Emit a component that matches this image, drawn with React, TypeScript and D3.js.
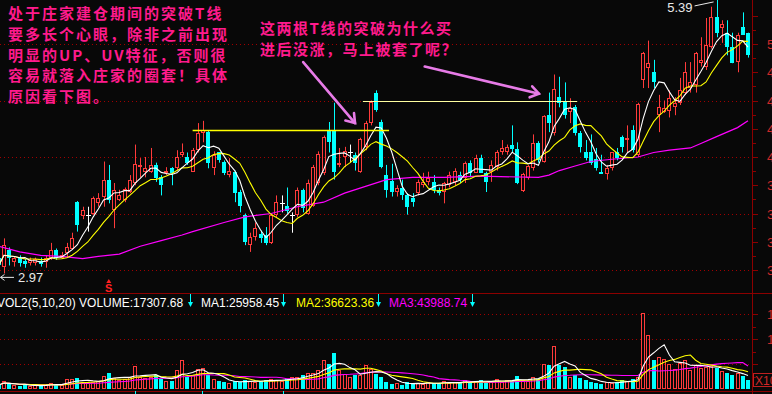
import React from "react";
import * as d3 from "d3";

// daily candles (price units)
const opens = [
  3.11, 3.03, 3.18, 3.07, 3.11, 3.08, 3.06, 3.06, 3.08, 3.07,
  3.11, 3.18, 3.11, 3.15, 3.19, 3.60, 3.48, 3.49, 3.50, 3.59,
  3.65, 3.80, 3.53, 3.62, 3.62, 3.69, 3.77, 3.91, 3.87, 3.87,
  3.93, 3.82, 3.86, 3.90, 3.90, 4.02, 4.00, 3.87, 4.06, 4.21,
  4.22, 3.90, 4.04, 3.96, 3.84, 3.87, 3.69, 3.49, 3.22, 3.29,
  3.32, 3.31, 3.24, 3.49, 3.59, 3.57, 3.49, 3.49, 3.71, 3.50,
  3.57, 3.77, 3.86, 4.24, 4.24, 3.93, 4.00, 4.04, 4.02, 3.87,
  4.09, 4.30, 4.57, 4.31, 3.84, 3.79, 3.69, 3.73, 3.66, 3.64,
  3.68, 3.75, 3.78, 3.78, 3.71, 3.69, 3.75, 3.78, 3.84, 3.81,
  3.95, 3.86, 3.99, 3.86, 3.87, 3.91, 4.04, 4.04, 4.11, 4.07,
  3.70, 3.81, 3.90, 4.12, 3.96, 4.37, 4.21, 4.53, 4.50, 4.40,
  4.44, 4.21, 4.04, 4.04, 3.98, 3.87, 3.85, 3.90, 4.04, 4.18,
  4.15, 4.24, 4.02, 4.68, 4.79, 4.75, 4.37, 4.40, 4.41, 4.44,
  4.48, 4.57, 4.61, 4.64, 4.83, 4.80, 4.97, 5.24, 5.14, 5.10,
  4.97, 4.84, 5.15, 5.10,
];
const closes = [
  3.04, 3.22, 3.11, 3.11, 3.06, 3.05, 3.09, 3.10, 3.05, 3.11,
  3.18, 3.11, 3.13, 3.20, 3.28, 3.40, 3.53, 3.49, 3.64, 3.64,
  3.80, 3.62, 3.71, 3.66, 3.72, 3.80, 3.94, 3.93, 3.90, 3.93,
  3.81, 3.75, 3.88, 3.86, 4.00, 4.04, 3.95, 4.06, 4.21, 4.24,
  3.95, 4.02, 3.97, 3.86, 3.88, 3.68, 3.57, 3.25, 3.29, 3.37,
  3.28, 3.24, 3.49, 3.60, 3.59, 3.52, 3.49, 3.71, 3.55, 3.77,
  3.91, 4.03, 4.18, 4.13, 3.87, 3.95, 4.05, 4.04, 3.95, 4.16,
  4.30, 4.49, 4.42, 3.91, 3.71, 3.69, 3.73, 3.66, 3.56, 3.60,
  3.78, 3.78, 3.81, 3.71, 3.68, 3.77, 3.84, 3.88, 3.80, 3.95,
  3.86, 3.99, 3.86, 3.78, 3.93, 4.04, 4.08, 4.09, 4.07, 3.77,
  3.85, 3.92, 4.12, 3.97, 4.36, 4.30, 4.60, 4.48, 4.37, 4.43,
  4.21, 4.09, 3.99, 3.95, 3.90, 3.85, 3.90, 4.04, 3.99, 4.09,
  4.17, 4.06, 4.47, 4.92, 4.83, 4.66, 4.44, 4.43, 4.52, 4.48,
  4.59, 4.75, 4.66, 4.92, 4.86, 4.99, 5.24, 5.10, 5.18, 4.97,
  4.83, 5.08, 5.08, 4.90,
];
const highs = [
  3.13, 3.28, 3.20, 3.12, 3.13, 3.10, 3.11, 3.11, 3.11, 3.13,
  3.24, 3.19, 3.16, 3.24, 3.33, 3.61, 3.56, 3.56, 3.65, 3.68,
  3.96, 3.93, 3.77, 3.71, 3.73, 3.84, 4.11, 3.99, 4.00, 4.08,
  3.95, 3.84, 3.91, 3.91, 4.06, 4.12, 4.04, 4.08, 4.30, 4.32,
  4.23, 4.05, 4.04, 3.97, 3.99, 3.88, 3.71, 3.50, 3.33, 3.42,
  3.35, 3.38, 3.50, 3.66, 3.66, 3.73, 3.51, 3.73, 3.72, 3.80,
  3.93, 4.05, 4.19, 4.31, 4.48, 4.08, 4.09, 4.11, 4.04, 4.17,
  4.32, 4.50, 4.59, 4.33, 3.93, 3.94, 3.75, 3.80, 3.68, 3.68,
  3.80, 3.86, 3.87, 3.84, 3.73, 3.78, 3.87, 3.90, 3.87, 3.96,
  3.97, 4.02, 4.02, 3.87, 3.97, 4.06, 4.15, 4.11, 4.28, 4.13,
  3.86, 3.93, 4.20, 4.14, 4.37, 4.57, 4.73, 4.71, 4.66, 4.52,
  4.46, 4.23, 4.15, 4.20, 4.08, 4.02, 3.93, 4.04, 4.08, 4.19,
  4.28, 4.28, 4.48, 4.93, 5.03, 4.86, 4.55, 4.50, 4.59, 4.53,
  4.70, 4.84, 4.84, 4.93, 5.06, 5.23, 5.33, 5.39, 5.21, 5.21,
  5.10, 5.10, 5.28, 5.10,
];
const lows = [
  3.02, 2.97, 3.04, 3.03, 3.03, 3.02, 3.04, 3.04, 3.03, 3.02,
  3.09, 3.09, 3.10, 3.11, 3.18, 3.34, 3.45, 3.34, 3.49, 3.56,
  3.56, 3.59, 3.37, 3.61, 3.60, 3.68, 3.75, 3.82, 3.82, 3.86,
  3.78, 3.66, 3.84, 3.75, 3.88, 4.00, 3.93, 3.87, 4.04, 4.13,
  3.90, 3.84, 3.95, 3.84, 3.82, 3.60, 3.51, 3.22, 3.16, 3.26,
  3.24, 3.22, 3.23, 3.47, 3.51, 3.50, 3.33, 3.47, 3.51, 3.49,
  3.56, 3.75, 3.84, 4.04, 3.80, 3.91, 3.91, 3.95, 3.88, 3.86,
  4.06, 4.28, 4.40, 3.90, 3.64, 3.65, 3.65, 3.62, 3.49, 3.56,
  3.66, 3.73, 3.75, 3.68, 3.66, 3.59, 3.73, 3.75, 3.77, 3.77,
  3.82, 3.86, 3.86, 3.69, 3.78, 3.88, 4.02, 4.02, 4.04, 3.76,
  3.69, 3.80, 3.88, 3.95, 3.95, 4.22, 4.19, 4.44, 4.34, 4.30,
  4.19, 4.04, 3.97, 3.93, 3.88, 3.85, 3.80, 3.88, 3.97, 4.04,
  4.04, 4.04, 4.00, 4.61, 4.61, 4.61, 4.22, 4.39, 4.35, 4.37,
  4.46, 4.55, 4.57, 4.57, 4.80, 4.77, 4.96, 5.06, 5.01, 4.90,
  4.83, 4.75, 5.08, 4.88,
];
// volume in thousands
const volumes = [
  8, 16, 10, 8, 6, 8, 6, 8, 6, 8,
  12, 10, 8, 20, 20, 22, 14, 12, 14, 16,
  26, 32, 22, 18, 20, 24, 46, 24, 22, 24,
  28, 20, 16, 16, 38, 58, 24, 28, 40, 42,
  28, 20, 16, 14, 12, 16, 14, 18, 16, 14,
  16, 18, 20, 18, 16, 20, 24, 24, 28, 32,
  32, 38, 58, 50, 72, 38, 30, 24, 28, 28,
  48, 40, 30, 24, 14, 10, 12, 8, 14, 10,
  12, 10, 14, 12, 10, 16, 12, 14, 12, 18,
  14, 16, 18, 12, 16, 20, 14, 18, 16, 26,
  18, 16, 24, 20, 50, 48, 86, 48, 44, 24,
  28, 22, 18, 14, 12, 10, 14, 12, 14, 18,
  16, 20, 24, 152, 108, 58, 64, 60, 50, 40,
  52, 58, 38, 48, 42, 44, 46, 42, 36, 32,
  28, 32, 26, 17.31,
];
// long moving average (magenta), read at a few candles: [candle index, price]
const longMa = [
  [0, 3.21], [4, 3.16], [8, 3.13], [12, 3.12], [16, 3.1], [19, 3.12], [23, 3.14],
  [27, 3.21], [31, 3.26], [35, 3.31], [37, 3.34], [43, 3.42], [47, 3.47], [52, 3.5],
  [57, 3.56], [62, 3.6], [66, 3.68], [70, 3.74], [74, 3.8], [79, 3.82], [85, 3.82],
  [92, 3.83], [103, 3.82], [105, 3.84], [107, 3.88], [110, 3.92], [113, 3.96],
  [117, 3.98], [122, 4.0], [125, 4.04], [128, 4.06], [132, 4.08], [134, 4.12],
  [137, 4.18], [141, 4.26], [143, 4.32],
];
// the two "T line" tops: [price, from index, to index]
const tLines = [
  [4.24, 37, 74.5],
  [4.5, 69.5, 110.4],
];
// annotation arrows in data space: [fromIndex, fromPrice, toIndex, toPrice]
const arrows = [
  [58.1, 4.84, 68, 4.3],
  [81.3, 4.8, 103.1, 4.56],
];
const priceTicks = [5, 4.75, 4.5, 4.25, 4, 3.75, 3.5, 3.25, 3];
const priceGrid = [5, 4.5, 4, 3.5, 3];
const volGrid = [50, 100, 150];
const volLabels = ["15000", "10000"];
const noteLeft = [
  "处于庄家建仓期间的突破T线",
  "要多长个心眼，除非之前出现",
  "明显的UP、UV特征，否则很",
  "容易就落入庄家的圈套！具体",
  "原因看下图。",
];
const noteMid = ["这两根T线的突破为什么买", "进后没涨，马上被套了呢？"];
const volLegend = [
  { text: "VOL2(5,10,20) VOLUME:17307.68", color: "#ffffff", x: -3, ax: 190 },
  { text: "MA1:25958.45", color: "#ffffff", x: 201, ax: 283 },
  { text: "MA2:36623.36", color: "#ffff00", x: 296, ax: 378 },
  { text: "MA3:43988.74", color: "#ff00ff", x: 389, ax: 472 },
];

const RED = "#ff3b3b";
const CYAN = "#00ffff";
const GRID = "#a00000";
const AXIS = "#8c0000";
const PINK = "#ff1a8c";
const VIOLET = "#e77be7";
const NUMFONT = "'Liberation Sans', Arial, sans-serif";
const CJK = "'Noto Sans CJK SC', sans-serif";

const movingAverage = (vals: number[], n: number) =>
  vals.map((_, i) => d3.mean(vals.slice(Math.max(0, i - n + 1), i + 1)) as number);

const App = () => {
  const width = 772,
    height = 394,
    axisX = 752,
    mainBottom = 293;

  const x = d3.scaleLinear().domain([0, closes.length - 1]).range([-1.24, 748]);
  const y = d3.scaleLinear().domain([3, 5]).range([270, 44]);
  const yv = d3.scaleLinear().domain([0, 150]).range([389, 314]);

  const ma5 = movingAverage(closes, 5);
  const ma10 = movingAverage(closes, 10);
  const vma5 = movingAverage(volumes, 5);
  const vma10 = movingAverage(volumes, 10);
  const vma20 = movingAverage(volumes, 20);

  const priceLine = d3
    .line<number>()
    .x((d, i) => x(i))
    .y((d) => y(d));
  const volLine = d3
    .line<number>()
    .x((d, i) => x(i))
    .y((d) => yv(d));
  const longLine = d3
    .line<number[]>()
    .x((d) => x(d[0]))
    .y((d) => y(d[1]));

  const hi = d3.max(highs) as number;
  const hiIdx = highs.indexOf(hi);
  const lo = d3.min(lows) as number;
  const loIdx = lows.indexOf(lo);
  const fmt = d3.format(".2f");

  const candle = (i: number) => {
    const o = opens[i],
      c = closes[i],
      h = highs[i],
      l = lows[i];
    const cx = Math.round(x(i));
    const wx = cx + 0.5;
    const top = Math.round(y(Math.max(o, c)));
    const bot = Math.round(y(Math.min(o, c)));
    if (c > o) {
      return (
        <g key={i} stroke={RED}>
          <line x1={wx} x2={wx} y1={y(h)} y2={top} />
          <line x1={wx} x2={wx} y1={bot} y2={y(l)} />
          <rect x={cx - 1.5} y={top + 0.5} width={3} height={Math.max(bot - top - 1, 0.5)} fill="none" />
        </g>
      );
    }
    if (c < o) {
      return (
        <g key={i}>
          <line x1={wx} x2={wx} y1={y(h)} y2={y(l)} stroke={CYAN} />
          <rect x={cx - 2} y={top} width={4} height={Math.max(bot - top, 1)} fill={CYAN} />
        </g>
      );
    }
    return (
      <g key={i} stroke="#ffffff">
        <line x1={wx} x2={wx} y1={y(h)} y2={y(l)} />
        <line x1={cx - 2} x2={cx + 3} y1={top + 0.5} y2={top + 0.5} />
      </g>
    );
  };

  const volBar = (v: number, i: number) => {
    const cx = Math.round(x(i));
    const top = Math.round(yv(v));
    const base = Math.round(yv(0));
    if (closes[i] >= opens[i]) {
      return (
        <rect key={i} x={cx - 1.5} y={top + 0.5} width={3} height={Math.max(base - top - 1, 0.5)} fill="none" stroke={RED} />
      );
    }
    return <rect key={i} x={cx - 2} y={top} width={4} height={base - top} fill={CYAN} />;
  };

  const arrow = (a: number[], k: number) => {
    const x1 = x(a[0]),
      y1 = y(a[1]),
      x2 = x(a[2]),
      y2 = y(a[3]);
    const ang = Math.atan2(y1 - y2, x1 - x2);
    const len = 10;
    const h1 = [x2 + len * Math.cos(ang + 0.6), y2 + len * Math.sin(ang + 0.6)];
    const h2 = [x2 + len * Math.cos(ang - 0.6), y2 + len * Math.sin(ang - 0.6)];
    return (
      <g key={k} stroke={VIOLET} strokeWidth={2.6} strokeLinecap="round" fill="none">
        <line x1={x1} y1={y1} x2={x2} y2={y2} />
        <polyline points={`${h1[0]},${h1[1]} ${x2},${y2} ${h2[0]},${h2[1]}`} />
      </g>
    );
  };

  return (
    <svg
      width={width}
      height={height}
      style={{ position: "absolute", left: 0, top: 0, background: "#080808", display: "block" }}
    >
      <defs>
        <clipPath id="mainClip">
          <rect x={0} y={0} width={axisX} height={mainBottom} />
        </clipPath>
        <clipPath id="volClip">
          <rect x={0} y={mainBottom + 1} width={axisX} height={height - mainBottom} />
        </clipPath>
      </defs>
      <rect width={width} height={height} fill="#080808" />

      {/* grid */}
      {priceGrid.map((p) => (
        <line key={p} x1={0} x2={axisX} y1={Math.round(y(p)) + 0.5} y2={Math.round(y(p)) + 0.5} stroke={GRID} strokeDasharray="1 3" />
      ))}
      {volGrid.map((v) => (
        <line key={v} x1={0} x2={axisX} y1={Math.round(yv(v)) + 0.5} y2={Math.round(yv(v)) + 0.5} stroke={GRID} strokeDasharray="1 3" />
      ))}

      {/* frame */}
      <line x1={axisX + 0.5} x2={axisX + 0.5} y1={0} y2={height} stroke={AXIS} />
      <line x1={0} x2={width} y1={mainBottom + 0.5} y2={mainBottom + 0.5} stroke={AXIS} />
      <line x1={0} x2={width} y1={391.5} y2={391.5} stroke={AXIS} />

      {/* right price axis */}
      {d3.range(3, 5.3, 0.125).map((p) => (
        <line key={p} x1={axisX} x2={axisX + (Math.abs(p * 4 - Math.round(p * 4)) < 1e-6 ? 6 : 4)} y1={Math.round(y(p)) + 0.5} y2={Math.round(y(p)) + 0.5} stroke={AXIS} />
      ))}
      {priceTicks.map((p) => (
        <text key={p} x={767} y={y(p) + 5} fill="#d02828" fontSize={13} fontFamily={NUMFONT}>
          {fmt(p)}
        </text>
      ))}
      {d3.range(25, 151, 25).map((v) => (
        <line key={v} x1={axisX} x2={axisX + (v % 50 === 0 ? 6 : 4)} y1={Math.round(yv(v)) + 0.5} y2={Math.round(yv(v)) + 0.5} stroke={AXIS} />
      ))}
      {volLabels.map((t, k) => (
        <text key={t} x={767} y={yv(volGrid[2 - k]) + 5} fill="#d02828" fontSize={13} fontFamily={NUMFONT}>
          {t}
        </text>
      ))}
      <rect x={753.5} y={373.5} width={22} height={13} fill="none" stroke="#c02020" />
      <text x={755} y={385} fill="#d02828" fontSize={12} fontFamily={NUMFONT}>
        X10
      </text>

      {/* main panel */}
      <g clipPath="url(#mainClip)">
        {closes.map((_, i) => candle(i))}
        <path d={longLine(longMa) || ""} fill="none" stroke="#ff00ff" strokeWidth={1.2} />
        <path d={priceLine(ma10) || ""} fill="none" stroke="#ffff00" strokeWidth={1.1} />
        <path d={priceLine(ma5) || ""} fill="none" stroke="#ffffff" strokeWidth={1.1} />
        {tLines.map((t, k) => (
          <line key={k} x1={x(t[1])} x2={x(t[2])} y1={Math.round(y(t[0])) + 0.5} y2={Math.round(y(t[0])) + 0.5} stroke={k === 0 ? "#ffff00" : "#ffffa0"} strokeWidth={k === 0 ? 1.6 : 1.2} />
        ))}
      </g>

      {/* high / low marks */}
      <line x1={x(hiIdx) - 22} y1={y(hi) + 6} x2={x(hiIdx) - 3} y2={y(hi) + 2} stroke="#e8e8e8" />
      <text x={x(hiIdx) - 24} y={12} textAnchor="end" fill="#e8e8e8" fontSize={13} fontFamily={NUMFONT}>
        {fmt(hi)}
      </text>
      <g stroke="#e8e8e8" fill="none">
        <line x1={0.5} x2={x(loIdx) + 10} y1={y(lo) + 4} y2={y(lo) + 4} />
        <polyline points={`${4.5},${y(lo) + 1} ${0.5},${y(lo) + 4} ${4.5},${y(lo) + 7}`} />
      </g>
      <text x={x(loIdx) + 14} y={y(lo) + 9} fill="#e8e8e8" fontSize={13} fontFamily={NUMFONT}>
        {fmt(lo)}
      </text>
      <path d={`M${x(21) - 2.5},283 L${x(21) + 2.5},283 L${x(21)},279 Z`} fill="#ff2020" />
      <text x={x(21)} y={292} textAnchor="middle" fill="#ff2020" fontSize={11} fontWeight="bold" fontFamily={NUMFONT}>
        S
      </text>

      {/* volume panel */}
      <g clipPath="url(#volClip)">
        {volumes.map(volBar)}
        <path d={volLine(vma20) || ""} fill="none" stroke="#ff00ff" strokeWidth={1.1} />
        <path d={volLine(vma10) || ""} fill="none" stroke="#ffff00" strokeWidth={1.1} />
        <path d={volLine(vma5) || ""} fill="none" stroke="#ffffff" strokeWidth={1.1} />
      </g>
      {volLegend.map((d) => (
        <g key={d.text}>
          <text x={d.x} y={307} fill={d.color} fontSize={12} fontFamily={NUMFONT}>
            {d.text}
          </text>
          <line x1={d.ax + 0.5} x2={d.ax + 0.5} y1={294} y2={305} stroke={CYAN} />
          <path d={`M${d.ax - 2},302 L${d.ax + 3},302 L${d.ax + 0.5},307 Z`} fill={CYAN} />
        </g>
      ))}
      {[135, 202, 283].map((t) => (
        <line key={t} x1={t + 0.5} x2={t + 0.5} y1={391} y2={394} stroke={CYAN} />
      ))}

      {/* annotations */}
      {arrows.map(arrow)}
      {noteLeft.map((t, k) => (
        <text key={t} x={8} y={19 + k * 20.8} fill={PINK} fontSize={15} fontWeight="bold" letterSpacing={2} fontFamily={CJK}>
          {t}
        </text>
      ))}
      {noteMid.map((t, k) => (
        <text key={t} x={260} y={34 + k * 21} fill={PINK} fontSize={15} fontWeight="bold" letterSpacing={1.5} fontFamily={CJK}>
          {t}
        </text>
      ))}
    </svg>
  );
};

export default App;
